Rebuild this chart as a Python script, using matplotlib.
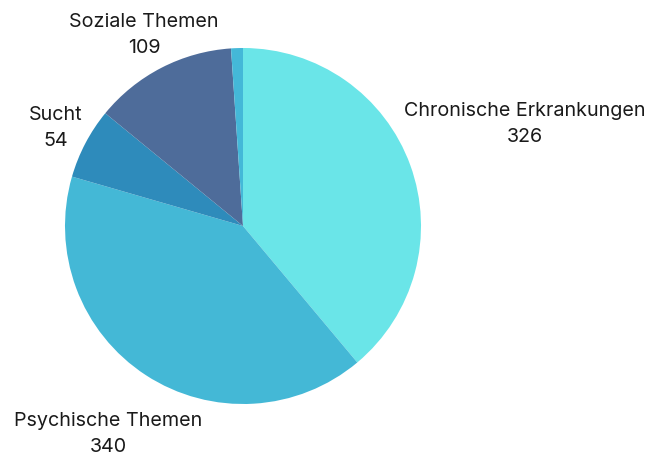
import matplotlib.pyplot as plt

# Daten
categories = ['Chronische Erkrankungen', 'Psychische Themen', 'Sucht', 'Soziale Themen', '']
values = [326, 340, 54, 109, 9]
colors = ['#6ae5e8', '#44b8d6', '#2e8bbb', '#4e6c9a', '#44b8d8']

# Label-Positionen (Datenkoordinaten, Radius = 1)
label_pos = [(1.584, 0.573), (-0.758, -1.169), (-1.051, 0.551), (-0.556, 1.073), (0, 0)]

plt.rcParams['font.family'] = ['Inter', 'DejaVu Sans']

fig = plt.figure(figsize=(6.57, 4.53), dpi=100)
ax = fig.add_axes([65 / 657, 49 / 453, 356 / 657, 356 / 453])

wedges, texts = ax.pie(values, colors=colors, startangle=90, counterclock=False,
                       radius=1, wedgeprops=dict(linewidth=0))

for i, (name, val) in enumerate(zip(categories, values)):
    if not name:
        continue
    x, y = label_pos[i]
    ax.text(x, y, f"{name}\n{val}", ha='center', va='center', fontsize=14.2,
            linespacing=1.55, color='#1a1a1a', clip_on=False)

ax.set_xlim(-1, 1)
ax.set_ylim(-1, 1)
ax.set_aspect('equal')
ax.axis('off')

fig.savefig('out.png', dpi=100)
